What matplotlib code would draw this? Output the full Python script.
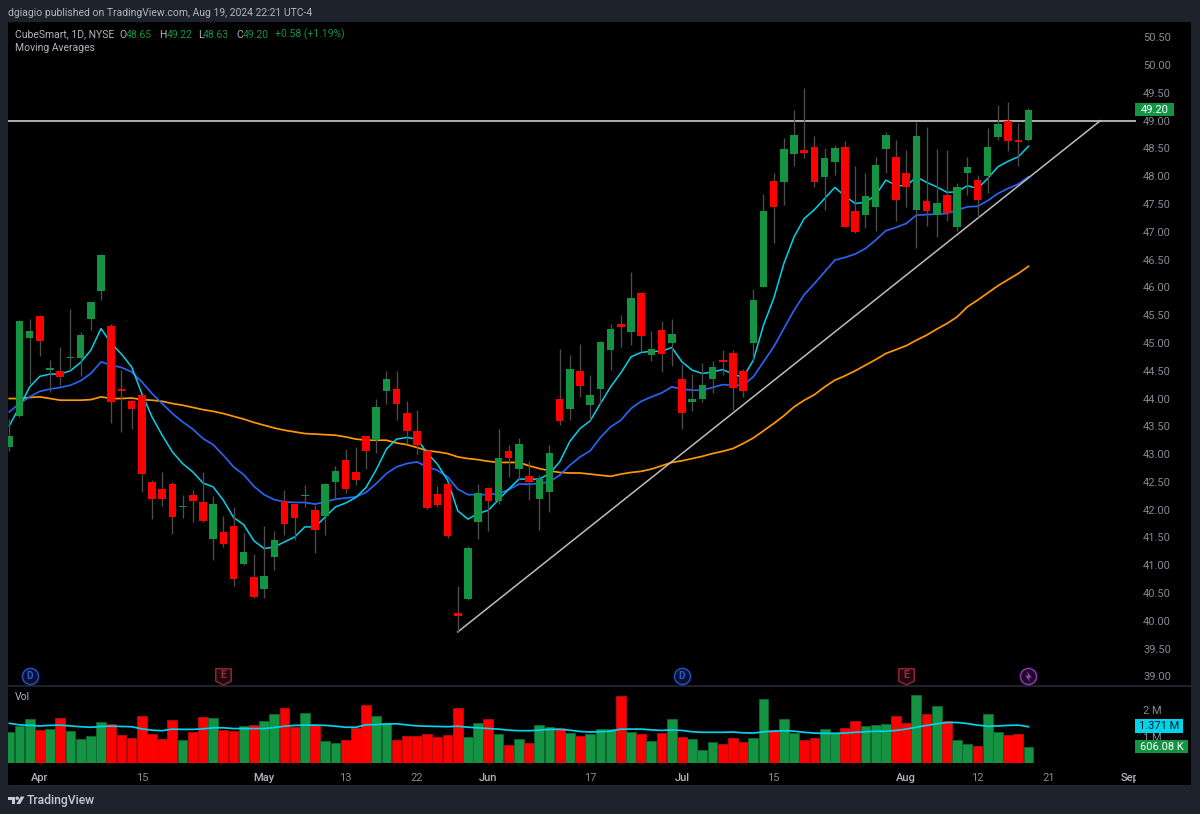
import numpy as np
import matplotlib
matplotlib.use('Agg')
import matplotlib.pyplot as plt
from matplotlib.patches import Rectangle, Polygon, Circle
from matplotlib.path import Path
from matplotlib.transforms import Bbox

plt.rcParams['font.family'] = ['Roboto', 'DejaVu Sans']

opens = [43.13, 43.69, 45.09, 45.49, 44.52, 44.49, 44.73, 44.73, 45.43, 45.94,
         45.31, 44.17, 43.96, 44.06, 42.49, 42.37, 42.46, 42.04, 42.27, 42.14,
         41.48, 41.59, 41.70, 41.02, 40.78, 40.57, 41.15, 42.16, 42.10, 42.24,
         41.99, 41.89, 42.50, 42.89, 42.67, 43.32, 43.25, 44.13, 44.18, 43.74,
         43.41, 43.06, 42.28, 42.47, 40.14, 40.39, 41.77, 42.39, 42.15, 43.05,
         42.73, 42.60, 42.20, 42.32, 44.00, 43.81, 44.49, 43.88, 44.17, 44.88,
         45.34, 45.20, 45.90, 44.78, 45.23, 45.00, 44.35, 43.94, 44.00, 44.36,
         44.69, 44.82, 44.50, 45.00, 46.00, 47.91, 47.90, 48.40, 48.48, 48.52,
         47.99, 48.25, 48.53, 47.37, 47.30, 47.44, 48.49, 48.35, 48.05, 47.39,
         47.55, 47.30, 47.66, 47.08, 48.05, 47.94, 48.00, 48.71, 49.00, 48.66,
         48.65]
highs = [43.64, 45.42, 45.44, 45.50, 44.69, 44.92, 45.62, 45.19, 45.74, 46.60,
         45.35, 44.51, 43.97, 44.07, 42.53, 42.67, 42.49, 42.26, 42.35, 42.67,
         42.25, 41.88, 42.04, 41.58, 41.21, 41.70, 41.61, 42.35, 42.11, 42.44,
         42.08, 42.48, 42.79, 43.10, 43.13, 43.33, 44.00, 44.49, 44.49, 43.95,
         43.79, 43.07, 42.43, 42.48, 40.62, 41.34, 42.47, 42.41, 43.46, 43.16,
         43.29, 42.88, 42.62, 43.16, 44.90, 44.79, 44.99, 44.42, 45.04, 45.34,
         45.50, 46.28, 45.92, 45.22, 45.40, 45.43, 44.63, 44.44, 44.64, 44.68,
         44.87, 44.87, 44.53, 45.97, 47.68, 48.06, 48.69, 49.19, 49.58, 48.73,
         48.50, 48.57, 48.64, 48.19, 48.06, 48.34, 48.80, 48.65, 48.48, 48.97,
         48.89, 48.49, 48.47, 47.87, 48.34, 48.03, 48.87, 49.28, 49.34, 48.95,
         49.22]
lows = [43.05, 43.67, 44.27, 44.76, 44.12, 44.24, 44.51, 44.41, 45.24, 45.77,
        43.56, 43.39, 43.46, 42.32, 41.83, 42.07, 41.56, 41.85, 41.78, 41.78,
        41.09, 41.32, 40.63, 41.01, 40.41, 40.41, 40.91, 41.54, 41.45, 42.05,
        41.22, 41.55, 42.18, 42.30, 42.44, 42.74, 43.02, 43.90, 43.62, 43.19,
        43.01, 42.02, 42.05, 41.49, 39.80, 40.37, 41.48, 41.62, 42.11, 42.58,
        42.53, 42.18, 41.63, 41.96, 43.53, 43.61, 44.02, 43.61, 43.91, 44.51,
        44.92, 44.96, 44.84, 44.68, 44.47, 44.59, 43.45, 43.77, 43.93, 44.10,
        44.42, 43.79, 44.03, 44.66, 46.00, 46.80, 47.48, 48.18, 48.32, 47.81,
        47.39, 48.03, 47.08, 46.97, 47.06, 47.02, 48.05, 47.19, 47.44, 46.71,
        47.10, 46.91, 47.19, 47.02, 47.66, 47.27, 47.69, 48.66, 48.46, 48.18,
        48.63]
closes = [43.32, 45.40, 45.22, 45.03, 44.55, 44.39, 44.75, 45.14, 45.73, 46.58,
          43.94, 44.14, 43.82, 42.64, 42.20, 42.20, 41.86, 42.06, 42.16, 41.79,
          42.11, 41.38, 40.76, 41.24, 40.43, 40.80, 41.45, 41.75, 41.85, 42.27,
          41.64, 42.46, 42.69, 42.37, 42.54, 43.05, 43.85, 44.36, 43.90, 43.41,
          43.16, 42.03, 42.08, 41.52, 40.09, 41.31, 42.30, 42.15, 42.93, 42.93,
          43.19, 42.49, 42.55, 43.02, 43.60, 44.53, 44.23, 44.07, 45.02, 45.25,
          45.28, 45.81, 45.13, 44.90, 44.81, 45.17, 43.74, 44.00, 44.25, 44.57,
          44.66, 44.19, 44.14, 45.77, 47.37, 47.45, 48.49, 48.74, 48.42, 47.90,
          48.33, 48.50, 47.09, 47.00, 47.64, 48.21, 48.74, 47.58, 47.81, 48.72,
          47.37, 47.52, 47.34, 47.81, 48.16, 47.57, 48.53, 48.94, 48.63, 48.62,
          49.20]

ma_fast = [43.51, 43.85, 44.21, 44.40, 44.44, 44.44, 44.50, 44.65, 44.87, 45.26,
           44.99, 44.80, 44.57, 44.09, 43.67, 43.34, 43.04, 42.83, 42.68, 42.48,
           42.41, 42.17, 41.86, 41.73, 41.44, 41.30, 41.33, 41.42, 41.51, 41.69,
           41.69, 41.87, 42.05, 42.12, 42.22, 42.40, 42.72, 43.09, 43.27, 43.30,
           43.27, 43.02, 42.82, 42.53, 41.98, 41.83, 41.93, 41.99, 42.18, 42.37,
           42.55, 42.55, 42.55, 42.65, 42.86, 43.23, 43.46, 43.60, 43.91, 44.21,
           44.46, 44.75, 44.83, 44.85, 44.85, 44.92, 44.66, 44.51, 44.45, 44.48,
           44.52, 44.44, 44.38, 44.69, 45.32, 45.80, 46.43, 46.91, 47.24, 47.40,
           47.60, 47.80, 47.64, 47.51, 47.53, 47.66, 47.93, 47.84, 47.82, 47.99,
           47.89, 47.81, 47.71, 47.72, 47.83, 47.78, 47.96, 48.17, 48.27, 48.35,
           48.54]
ma_mid = [43.76, 43.91, 44.03, 44.13, 44.17, 44.20, 44.24, 44.32, 44.45, 44.66,
          44.60, 44.56, 44.48, 44.30, 44.09, 43.91, 43.73, 43.58, 43.45, 43.28,
          43.17, 42.98, 42.77, 42.63, 42.42, 42.27, 42.18, 42.14, 42.13, 42.13,
          42.10, 42.14, 42.19, 42.21, 42.23, 42.31, 42.47, 42.65, 42.77, 42.83,
          42.86, 42.77, 42.71, 42.59, 42.37, 42.27, 42.27, 42.27, 42.29, 42.36,
          42.46, 42.46, 42.47, 42.50, 42.62, 42.80, 42.95, 43.06, 43.30, 43.49,
          43.61, 43.82, 43.95, 44.03, 44.10, 44.21, 44.17, 44.15, 44.15, 44.20,
          44.25, 44.24, 44.24, 44.39, 44.66, 44.93, 45.26, 45.59, 45.87, 46.07,
          46.28, 46.49, 46.54, 46.60, 46.70, 46.85, 47.02, 47.08, 47.15, 47.30,
          47.31, 47.32, 47.33, 47.39, 47.45, 47.46, 47.56, 47.69, 47.78, 47.86,
          47.99]
ma_slow = [44.00, 44.00, 44.02, 44.03, 44.00, 43.97, 43.97, 43.97, 43.98, 44.03,
           44.00, 44.00, 44.01, 43.98, 43.97, 43.95, 43.91, 43.88, 43.84, 43.80,
           43.77, 43.73, 43.68, 43.63, 43.57, 43.52, 43.47, 43.43, 43.40, 43.37,
           43.36, 43.35, 43.34, 43.31, 43.27, 43.25, 43.25, 43.25, 43.20, 43.17,
           43.12, 43.06, 43.04, 43.01, 42.95, 42.92, 42.90, 42.87, 42.85, 42.85,
           42.85, 42.79, 42.74, 42.70, 42.67, 42.66, 42.66, 42.64, 42.62, 42.60,
           42.64, 42.67, 42.69, 42.73, 42.79, 42.85, 42.88, 42.92, 42.96, 43.01,
           43.05, 43.10, 43.19, 43.29, 43.42, 43.55, 43.69, 43.85, 43.97, 44.07,
           44.21, 44.33, 44.41, 44.50, 44.60, 44.70, 44.81, 44.88, 44.95, 45.05,
           45.14, 45.25, 45.35, 45.47, 45.65, 45.77, 45.90, 46.03, 46.14, 46.25,
           46.38]

volumes = [1.18, 1.38, 1.66, 1.23, 1.30, 1.71, 1.19, 0.92, 1.01, 1.53,
           1.47, 1.04, 0.96, 1.78, 1.11, 0.92, 1.64, 0.88, 1.18, 1.75,
           1.69, 1.25, 1.19, 1.40, 1.45, 1.57, 1.84, 2.07, 1.35, 1.90,
           1.42, 0.84, 0.75, 0.86, 1.33, 2.20, 1.76, 1.52, 0.88, 1.01,
           1.01, 1.08, 0.99, 1.04, 2.09, 0.99, 1.50, 1.65, 1.11, 0.67,
           0.92, 0.75, 1.45, 1.35, 1.33, 1.13, 1.01, 1.08, 1.28, 1.28,
           2.52, 1.18, 1.08, 0.84, 1.12, 1.66, 0.97, 0.89, 0.48, 0.81,
           0.73, 0.93, 0.81, 0.93, 2.42, 1.25, 1.65, 1.13, 0.86, 0.94,
           1.29, 1.13, 1.33, 1.57, 1.38, 1.43, 1.47, 1.79, 1.50, 2.57,
           1.86, 2.15, 1.58, 0.88, 0.70, 0.63, 1.86, 1.18, 1.07, 1.08,
           0.606]
vol_ma = [1.50, 1.44, 1.42, 1.40, 1.42, 1.43, 1.40, 1.37, 1.35, 1.38,
          1.39, 1.38, 1.37, 1.29, 1.24, 1.22, 1.28, 1.27, 1.27, 1.29,
          1.33, 1.33, 1.30, 1.30, 1.30, 1.30, 1.34, 1.39, 1.42, 1.43,
          1.43, 1.42, 1.39, 1.35, 1.35, 1.44, 1.45, 1.47, 1.48, 1.44,
          1.40, 1.39, 1.38, 1.37, 1.39, 1.35, 1.33, 1.30, 1.28, 1.24,
          1.22, 1.22, 1.24, 1.27, 1.27, 1.24, 1.19, 1.17, 1.18, 1.20,
          1.28, 1.28, 1.28, 1.25, 1.23, 1.25, 1.23, 1.18, 1.16, 1.16,
          1.16, 1.17, 1.14, 1.13, 1.18, 1.20, 1.22, 1.20, 1.16, 1.13,
          1.12, 1.12, 1.13, 1.16, 1.18, 1.20, 1.20, 1.23, 1.28, 1.35,
          1.42, 1.48, 1.53, 1.53, 1.49, 1.43, 1.39, 1.40, 1.42, 1.43,
          1.371]

support_price = 49.00
trend_bars = [44, 107.05]
trend_prices = [39.80, 49.00]

price_ticks = [39 + 0.5 * k for k in range(24)]
time_bars = [3, 13, 25, 33, 40, 47, 57, 66, 75, 88, 95, 102, 110]
time_labels = ['Apr', '15', 'May', '13', '22', 'Jun', '17', 'Jul', '15', 'Aug', '12', '21', 'Sep']
month_labels = ['Apr', 'May', 'Jun', 'Jul', 'Aug', 'Sep']

event_bars = [2, 21, 66, 88, 100]
event_kinds = ['D', 'E', 'D', 'E', 'S']
event_price = 39.01

BG = '#1e222d'
GREEN = '#149442'
GREEN_EDGE = '#0e6b30'
RED = '#ff0000'
RED_EDGE = '#b80f14'
WICK = '#4e4e4e'
CYAN = '#00d3ec'
BLUE = '#2a62f2'
ORANGE = '#ff9800'
LINE = '#bdbdbd'
TEXT = '#b2b5be'
AXIS_TEXT = '#868993'
AXIS_SIZE = 8.0
TEXT_SIZE = 7.45

W, H = 1200, 814
fig = plt.figure(figsize=(W / 100, H / 100), dpi=100, facecolor=BG)


def rect(left, top, right, bottom):
    return [left / W, 1 - bottom / H, (right - left) / W, (bottom - top) / H]


def label(x, y, s, color=TEXT, size=TEXT_SIZE, **kw):
    kw.setdefault('va', 'center')
    fig.text(x / W, 1 - y / H, s, color=color, fontsize=size, zorder=20, **kw)


# page background and the black chart panel
page = fig.add_axes([0, 0, 1, 1], zorder=0)
page.set_xlim(0, W)
page.set_ylim(H, 0)
page.axis('off')
page.add_patch(Rectangle((8, 22), 1183, 763, color='black', lw=0))
page.add_patch(Rectangle((8, 685), 1183, 2, color=BG, lw=0))

# logo in the footer
logo = '#c8cbd3'
page.add_patch(Polygon([(8, 796.5), (15, 796.5), (15, 804), (11.5, 804), (11.5, 800), (8, 800)], color=logo, lw=0))
page.add_patch(Circle((17.2, 798.2), 1.7, color=logo, lw=0))
page.add_patch(Polygon([(20.8, 796.5), (24.4, 796.5), (20.2, 804), (16.4, 804)], color=logo, lw=0))

XLIM = (-0.128, 110.5)
ax = fig.add_axes(rect(8, 22, 1135.5, 685), zorder=2, facecolor='none')
vol = fig.add_axes(rect(8, 687, 1135.5, 763), zorder=2, facecolor='none')

x = np.arange(len(closes))
o = np.array(opens)
c = np.array(closes)
up = c >= o
colors = np.where(up, GREEN, RED)

# price pane: averages and drawn levels sit under the candles
ax.plot(x, ma_slow, color=ORANGE, lw=1.25, zorder=2)
ax.plot(x, ma_mid, color=BLUE, lw=1.25, zorder=2)
ax.plot(x, ma_fast, color=CYAN, lw=1.1, zorder=2)
ax.axhline(support_price, color=LINE, lw=1.3, zorder=2)
ax.plot(trend_bars, trend_prices, color=LINE, lw=1.1, zorder=2)

ax.vlines(x, lows, highs, color=WICK, lw=0.95, zorder=3)
ax.bar(x, np.abs(c - o), bottom=np.minimum(o, c), width=0.74, color=colors, lw=0, zorder=4)

ax.set_xlim(*XLIM)
ax.set_ylim(38.845, 50.776)
ax.set_xticks([])
ax.yaxis.tick_right()
ax.set_yticks(price_ticks)
ax.set_yticklabels([f'{p:.2f}' for p in price_ticks])
ax.tick_params(axis='y', length=0, pad=5.5, labelsize=AXIS_SIZE, labelcolor=AXIS_TEXT)
for s in ax.spines.values():
    s.set_visible(False)

# corporate event badges along the bottom of the price pane
shield = Path([(-1, 1), (1, 1), (1, -0.6), (0, -1.1), (-1, -0.6), (-1, 1)], closed=True)
bolt = Path([(0.25, -1), (-0.6, 0.15), (-0.05, 0.15), (-0.3, 1), (0.6, -0.2), (0.05, -0.2), (0.25, -1)],
            closed=True)
for bar, kind in zip(event_bars, event_kinds):
    if kind == 'D':
        ax.scatter(bar, event_price, s=135, marker='o', facecolor='#0a1230', edgecolor='#2450c4', lw=1.1, zorder=6, clip_on=False)
        ax.text(bar, event_price, 'D', color='#2a5bd7', fontsize=7.4, fontweight='bold', ha='center', va='center', zorder=7)
    elif kind == 'E':
        ax.scatter(bar, event_price, s=150, marker=shield, facecolor='#200a10', edgecolor='#8c2436', lw=1.1, zorder=6, clip_on=False)
        ax.text(bar, event_price + 0.02, 'E', color='#a32a3e', fontsize=7.4, fontweight='bold', ha='center', va='center', zorder=7)
    else:
        ax.scatter(bar, event_price, s=135, marker='o', facecolor='#1c0c26', edgecolor='#9038b0', lw=1.1, zorder=6, clip_on=False)
        ax.scatter(bar, event_price, s=60, marker=bolt, facecolor='#a040c0', lw=0, zorder=7)

# volume pane
edge = np.where(up, GREEN_EDGE, RED_EDGE)
vol.bar(x, volumes, width=0.96, color=colors, edgecolor=edge, lw=0.6, zorder=2)
vol.plot(x, vol_ma, color=CYAN, lw=1.25, zorder=3)
vol.set_xlim(*XLIM)
vol.set_ylim(0, 2.87)
vol.yaxis.tick_right()
vol.set_yticks([1, 2])
vol.set_yticklabels(['1 M', '2 M'])
vol.tick_params(axis='y', length=0, pad=5.5, labelsize=AXIS_SIZE, labelcolor=AXIS_TEXT)
vol.set_xticks(time_bars)
vol.set_xticklabels(time_labels)
vol.tick_params(axis='x', length=0, pad=7, labelsize=AXIS_SIZE, labelcolor=AXIS_TEXT)
clip = Bbox([[0, 0], [1135.5, H]])
for t in vol.get_xticklabels():
    t.set_clip_on(True)
    t.set_clip_box(clip)
    if t.get_text() in month_labels:
        t.set_color(TEXT)
        t.set_fontweight('medium')
for s in vol.spines.values():
    s.set_visible(False)

# coloured last-value boxes on the scales
over = fig.add_axes([0, 0, 1, 1], zorder=3, facecolor='none')
over.set_xlim(0, W)
over.set_ylim(H, 0)
over.axis('off')
over.add_patch(Rectangle((1135, 102.7), 39, 13.3, color=GREEN, lw=0))
over.add_patch(Rectangle((1135, 719.3), 48, 13.4, color=CYAN, lw=0))
over.add_patch(Rectangle((1135, 740), 53, 13.3, color=GREEN, lw=0))
label(1154.5, 109.6, '49.20', color='white', size=AXIS_SIZE, ha='center')
label(1159, 726.2, '1.371 M', color='#131722', size=AXIS_SIZE, ha='center')
label(1161.5, 746.9, '606.08 K', color='white', size=AXIS_SIZE, ha='center')

# header and legend text
label(8, 12.5, 'dgiagio published on TradingView.com, Aug 19, 2024 22:21 UTC-4')
label(15, 34.5, 'CubeSmart, 1D, NYSE')
label(119, 34.5, 'O')
label(126, 34.5, '48.65', color=GREEN)
label(159, 34.5, 'H')
label(167, 34.5, '49.22', color=GREEN)
label(198, 34.5, 'L')
label(203, 34.5, '48.63', color=GREEN)
label(236, 34.5, 'C')
label(243, 34.5, '49.20', color=GREEN)
label(275, 34.5, '+0.58 (+1.19%)', color=GREEN)
label(15, 48, 'Moving Averages')
label(15, 697, 'Vol')
label(27, 800.5, 'TradingView', color=logo, size=8.7, fontweight='medium')

fig.savefig('out.png', dpi=100, facecolor=BG)
